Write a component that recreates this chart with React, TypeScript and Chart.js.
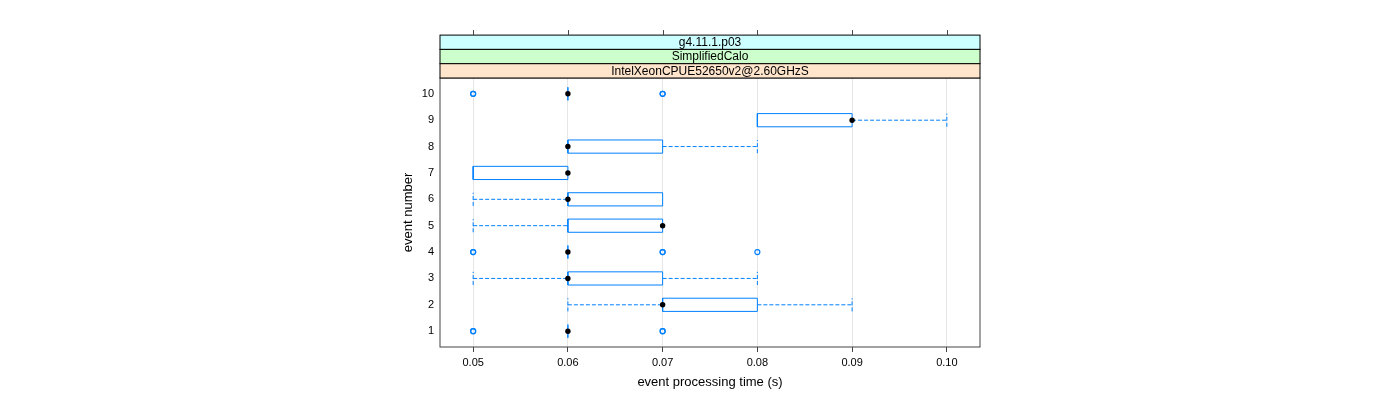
import React, { useEffect, useRef } from 'react';
import { Chart, registerables } from 'chart.js';

Chart.register(...registerables);

// ---- data ----
const events = [1, 2, 3, 4, 5, 6, 7, 8, 9, 10];
const lowerWhisker = [0.06, 0.06, 0.05, 0.06, 0.05, 0.05, 0.05, 0.06, 0.08, 0.06];
const lowerQuartile = [0.06, 0.07, 0.06, 0.06, 0.06, 0.06, 0.05, 0.06, 0.08, 0.06];
const medians = [0.06, 0.07, 0.06, 0.06, 0.07, 0.06, 0.06, 0.06, 0.09, 0.06];
const upperQuartile = [0.06, 0.08, 0.07, 0.06, 0.07, 0.07, 0.06, 0.07, 0.09, 0.06];
const upperWhisker = [0.06, 0.09, 0.08, 0.06, 0.07, 0.07, 0.06, 0.08, 0.1, 0.06];
// outliers (repeated values overplot and look darker)
const outlierEvents = [1, 1, 1, 1, 4, 4, 4, 4, 4, 10, 10, 10, 10];
const outlierValues = [0.05, 0.05, 0.07, 0.07, 0.05, 0.05, 0.07, 0.07, 0.08, 0.05, 0.05, 0.07, 0.07];
const xTicks = [0.05, 0.06, 0.07, 0.08, 0.09, 0.1];
const xTickLabels = ['0.05', '0.06', '0.07', '0.08', '0.09', '0.10'];
const yTicks = events;
const stripLabels = ['g4.11.1.p03', 'SimplifiedCalo', 'IntelXeonCPUE52650v2@2.60GHzS'];
const stripColors = ['#ccffff', '#ccffcc', '#ffe5cc'];
const xTitle = 'event processing time (s)';
const yTitle = 'event number';

const BLUE = '#0080ff';
const HALF_BOX = 0.25;
const FONT = "'Liberation Sans', Arial, Helvetica, sans-serif";

const gap = { x: null as any, y: null as any };

function buildBoxes() {
  const pts: any[] = [];
  events.forEach((e, i) => {
    const a = lowerQuartile[i];
    const b = upperQuartile[i];
    pts.push({ x: a, y: e - HALF_BOX }, { x: b, y: e - HALF_BOX }, { x: b, y: e + HALF_BOX }, { x: a, y: e + HALF_BOX }, { x: a, y: e - HALF_BOX }, gap);
  });
  return pts;
}

function buildWhiskers() {
  const pts: any[] = [];
  events.forEach((e, i) => {
    if (lowerWhisker[i] < lowerQuartile[i]) {
      pts.push({ x: lowerWhisker[i], y: e }, { x: lowerQuartile[i], y: e }, gap);
      pts.push({ x: lowerWhisker[i], y: e - HALF_BOX }, { x: lowerWhisker[i], y: e + HALF_BOX }, gap);
    }
    if (upperWhisker[i] > upperQuartile[i]) {
      pts.push({ x: upperQuartile[i], y: e }, { x: upperWhisker[i], y: e }, gap);
      pts.push({ x: upperWhisker[i], y: e - HALF_BOX }, { x: upperWhisker[i], y: e + HALF_BOX }, gap);
    }
  });
  return pts;
}

const stripPlugin = {
  id: 'latticeStrips',
  afterDraw(chart: any) {
    const { ctx, chartArea: a, scales } = chart;
    const xs = scales.x;
    const stripH = 14.3;
    const n = stripLabels.length;
    const top0 = a.top - stripH * n;
    ctx.save();
    // panel frame
    ctx.strokeStyle = '#444';
    ctx.lineWidth = 1;
    ctx.strokeRect(a.left, a.top, a.right - a.left, a.bottom - a.top);
    // strips
    for (let i = 0; i < n; i++) {
      const y = top0 + i * stripH;
      ctx.fillStyle = stripColors[i];
      ctx.fillRect(a.left, y, a.right - a.left, stripH);
      ctx.strokeStyle = '#000';
      ctx.strokeRect(a.left, y, a.right - a.left, stripH);
      ctx.fillStyle = '#000';
      ctx.font = `12px ${FONT}`;
      ctx.textAlign = 'center';
      ctx.textBaseline = 'middle';
      ctx.fillText(stripLabels[i], (a.left + a.right) / 2, y + stripH / 2 + 0.5);
    }
    // top tick marks above strips
    ctx.strokeStyle = '#444';
    xTicks.forEach((v) => {
      const px = Math.round(xs.getPixelForValue(v)) + 0.5;
      ctx.beginPath();
      ctx.moveTo(px, top0);
      ctx.lineTo(px, top0 - 5);
      ctx.stroke();
    });
    ctx.restore();
  },
};

export default function App() {
  const ref = useRef<HTMLCanvasElement | null>(null);

  useEffect(() => {
    document.body.style.margin = '0';
    const canvas = ref.current;
    if (!canvas) return;
    const chart = new Chart(canvas, {
      type: 'scatter',
      data: {
        datasets: [
          {
            label: 'medians',
            data: medians.map((v, i) => ({ x: v, y: events[i] })),
            showLine: false,
            pointRadius: 2.7,
            pointBorderWidth: 0,
            pointBackgroundColor: '#000',
            pointBorderColor: '#000',
          },
          {
            label: 'outliers',
            data: outlierValues.map((v, i) => ({ x: v, y: outlierEvents[i] })),
            showLine: false,
            pointRadius: 2.5,
            pointBorderWidth: 1.2,
            pointBorderColor: BLUE,
            pointBackgroundColor: 'rgba(255,255,255,0)',
          },
          {
            label: 'boxes',
            data: buildBoxes(),
            showLine: true,
            spanGaps: false,
            borderColor: BLUE,
            borderWidth: 1,
            pointRadius: 0,
          },
          {
            label: 'whiskers',
            data: buildWhiskers(),
            showLine: true,
            spanGaps: false,
            borderColor: BLUE,
            borderWidth: 1,
            borderDash: [4, 2],
            pointRadius: 0,
          },
        ],
      },
      options: {
        responsive: false,
        animation: false,
        events: [],
        layout: { padding: { left: 397, right: 420, top: 78, bottom: 0 } },
        plugins: { legend: { display: false }, tooltip: { enabled: false } },
        scales: {
          x: {
            type: 'linear',
            min: 0.0465,
            max: 0.1035,
            afterBuildTicks: (s: any) => {
              s.ticks = xTicks.map((v) => ({ value: v }));
            },
            afterFit: (s: any) => {
              s.height = 53;
            },
            ticks: {
              callback: (_v: any, i: number) => xTickLabels[i],
              font: { size: 11, family: FONT },
              color: '#000',
              padding: 4,
              maxRotation: 0,
            },
            grid: {
              color: '#e6e6e6',
              drawTicks: true,
              tickLength: 5,
              tickColor: '#444',
            },
            border: { display: false },
            title: {
              display: true,
              text: xTitle,
              color: '#000',
              font: { size: 13, family: FONT },
              padding: { top: 0, bottom: 10 },
            },
          },
          y: {
            type: 'linear',
            min: 0.4,
            max: 10.6,
            afterBuildTicks: (s: any) => {
              s.ticks = yTicks.map((v) => ({ value: v }));
            },
            afterFit: (s: any) => {
              s.width = 43;
            },
            ticks: {
              callback: (v: any) => String(v),
              font: { size: 11, family: FONT },
              color: '#000',
              padding: 6,
            },
            grid: { display: false, drawTicks: false },
            border: { display: false },
            title: {
              display: true,
              text: yTitle,
              color: '#000',
              font: { size: 13, family: FONT },
              padding: { top: 4, bottom: 0 },
            },
          },
        },
      },
      plugins: [stripPlugin],
    });
    return () => chart.destroy();
  }, []);

  return (
    <div style={{ width: 1400, height: 400 }}>
      <canvas ref={ref} width={1400} height={400} style={{ display: 'block' }} />
    </div>
  );
}
